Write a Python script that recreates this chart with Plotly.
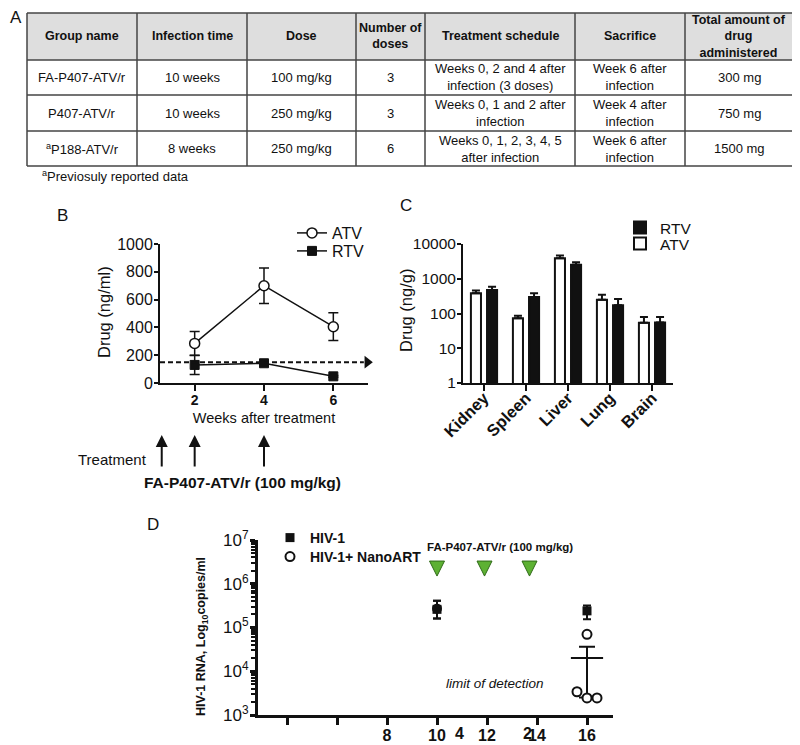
import math
import plotly.graph_objects as go

W, H = 800, 745
OFF = 8  # the page body margin places the figure 8px right/down in the window


def fx(p):
    return (p - OFF) / W


def fy(p):
    return 1 - (p - OFF) / H


FONT = "Liberation Sans, Arial, sans-serif"
INK = "#111111"

# ---------------- Panel A : table ----------------
table_headers = ["Group name", "Infection time", "Dose", "Number of<br>doses",
                 "Treatment schedule", "Sacrifice", "Total amount of<br>drug<br>administered"]
group_names = ["FA-P407-ATV/r", "P407-ATV/r", "<sup>a</sup>P188-ATV/r"]
infection_times = ["10 weeks", "10 weeks", "8 weeks"]
doses = ["100 mg/kg", "250 mg/kg", "250 mg/kg"]
number_of_doses = ["3", "3", "6"]
schedules = ["Weeks 0, 2 and 4 after<br>infection (3 doses)",
             "Weeks 0, 1 and 2 after<br>infection",
             "Weeks 0, 1, 2, 3, 4, 5<br>after infection"]
sacrifices = ["Week 6 after<br>infection", "Week 4 after<br>infection", "Week 6 after<br>infection"]
total_drug = ["300 mg", "750 mg", "1500 mg"]
table_footnote = "<sup>a</sup>Previosuly reported data"

# ---------------- Panel B : plasma drug levels ----------------
b_weeks = [2, 4, 6]
atv_plasma = [285, 700, 405]
atv_plasma_err = [85, 128, 100]
rtv_plasma = [130, 142, 48]
rtv_plasma_err = [68, 10, 6]
plasma_limit = 150
treatment_weeks = [1.05, 2, 4]

# ---------------- Panel C : tissue drug levels ----------------
tissues = ["Kidney", "Spleen", "Liver", "Lung", "Brain"]
atv_tissue = [380, 73, 3920, 250, 54]
atv_tissue_err = [82, 13, 760, 95, 25]
rtv_tissue = [473, 300, 2520, 172, 55]
rtv_tissue_err = [117, 83, 480, 91, 24]

# ---------------- Panel D : viral load ----------------
hiv_weeks = [10, 16]
hiv_rna = [2.6e5, 2.4e5]
hiv_err_plus = [1.5e5, 0.8e5]
hiv_err_minus = [1.0e5, 0.85e5]
nano_base_weeks = [10]
nano_base_rna = [2.7e5]
nano_base_err_plus = [1.4e5]
nano_base_err_minus = [1.1e5]
nano_weeks = [16, 15.6, 16, 16.4]
nano_rna = [7.0e4, 3.4e3, 2.45e3, 2.45e3]
nano_mean_week = [16]
nano_mean = [2.0e4]
nano_sem_plus = [1.65e4]
nano_sem_minus = [1.75e4]
dose_weeks = [10, 11.9, 13.7]
dose_level = [1.5e6, 1.5e6, 1.5e6]
detection_limit = 2.45e3
d_tick_vals = [4, 6, 8, 10, 12, 14, 16]
d_tick_text = ["", "", "8", "10", "12", "14", "16"]
d_stray_labels = ["4", "2"]
d_stray_weeks = [10.9, 13.6]

fig = go.Figure()

# ----- B traces
B_XR = [1, 7]
fig.add_trace(go.Scatter(
    x=b_weeks, y=atv_plasma, name="ATV", mode="lines+markers",
    line=dict(color=INK, width=1.5),
    marker=dict(symbol="circle", size=10, color="white", line=dict(color=INK, width=1.5)),
    error_y=dict(type="data", array=atv_plasma_err, color=INK, thickness=1.5, width=5),
    xaxis="x", yaxis="y", legend="legend"))
fig.add_trace(go.Scatter(
    x=b_weeks, y=rtv_plasma, name="RTV", mode="lines+markers",
    line=dict(color=INK, width=1.5),
    marker=dict(symbol="square", size=9, color=INK, line=dict(color=INK, width=1)),
    error_y=dict(type="data", array=rtv_plasma_err, color=INK, thickness=1.5, width=5),
    xaxis="x", yaxis="y", legend="legend2"))
fig.add_trace(go.Scatter(
    x=[B_XR[0], B_XR[1] - 0.12], y=[plasma_limit, plasma_limit], mode="lines",
    line=dict(color=INK, width=2, dash="5px,3px"), showlegend=False,
    cliponaxis=False, xaxis="x", yaxis="y", hoverinfo="skip"))
fig.add_trace(go.Scatter(
    x=[B_XR[1] - 0.02], y=[plasma_limit], mode="markers",
    marker=dict(symbol="triangle-right", size=11, color=INK),
    showlegend=False, cliponaxis=False, xaxis="x", yaxis="y", hoverinfo="skip"))

# ----- C traces
fig.add_trace(go.Bar(
    x=tissues, y=atv_tissue, name="ATV",
    marker=dict(color="white", line=dict(color=INK, width=2)),
    error_y=dict(type="data", array=atv_tissue_err, arrayminus=[0] * 5, symmetric=False,
                 color=INK, thickness=2, width=4),
    xaxis="x2", yaxis="y2", legend="legend4"))
fig.add_trace(go.Bar(
    x=tissues, y=rtv_tissue, name="RTV",
    marker=dict(color=INK, line=dict(color=INK, width=2)),
    error_y=dict(type="data", array=rtv_tissue_err, arrayminus=[0] * 5, symmetric=False,
                 color=INK, thickness=2, width=4),
    xaxis="x2", yaxis="y2", legend="legend3"))

# ----- D traces
fig.add_trace(go.Scatter(
    x=dose_weeks, y=dose_level, mode="markers", showlegend=False,
    marker=dict(symbol="arrow-down", size=15, color="#5db133", line=dict(color="#2f6a18", width=1)),
    xaxis="x3", yaxis="y3", hoverinfo="skip"))
fig.add_trace(go.Scatter(
    x=hiv_weeks, y=hiv_rna, name="<b>HIV-1</b>", mode="markers",
    marker=dict(symbol="square", size=9, color=INK),
    error_y=dict(type="data", array=hiv_err_plus, arrayminus=hiv_err_minus, symmetric=False,
                 color=INK, thickness=2, width=4),
    xaxis="x3", yaxis="y3", legend="legend5"))
fig.add_trace(go.Scatter(
    x=nano_base_weeks, y=nano_base_rna, mode="markers", showlegend=False,
    marker=dict(symbol="circle", size=10, color=INK),
    error_y=dict(type="data", array=nano_base_err_plus, arrayminus=nano_base_err_minus,
                 symmetric=False, color=INK, thickness=2, width=4),
    xaxis="x3", yaxis="y3"))
fig.add_trace(go.Scatter(
    x=nano_mean_week, y=nano_mean, mode="markers", showlegend=False,
    marker=dict(symbol="line-ew", size=23, line=dict(color=INK, width=2)),
    error_y=dict(type="data", array=nano_sem_plus, arrayminus=nano_sem_minus, symmetric=False,
                 color=INK, thickness=2, width=8),
    xaxis="x3", yaxis="y3"))
fig.add_trace(go.Scatter(
    x=nano_weeks, y=nano_rna, name="<b>HIV-1+ NanoART</b>", mode="markers",
    marker=dict(symbol="circle", size=9, color="white", line=dict(color=INK, width=2)),
    xaxis="x3", yaxis="y3", legend="legend6", cliponaxis=False))

axis_common = dict(showgrid=False, zeroline=False, showline=True, linecolor=INK,
                   ticks="outside", tickcolor=INK, automargin=False)

# ---------------- Table shapes & annotations ----------------
col_edges = [27, 137, 247, 356, 425, 575, 685, 793]
row_edges = [13, 60, 95, 131, 166]
shapes = []
annotations = []
shapes.append(dict(type="rect", xref="paper", yref="paper",
                   x0=fx(col_edges[0]), x1=fx(col_edges[-1]),
                   y0=fy(row_edges[1]), y1=fy(row_edges[0]),
                   fillcolor="#dedede", line=dict(width=0), layer="below"))
for r in row_edges:
    shapes.append(dict(type="line", xref="paper", yref="paper",
                       x0=fx(col_edges[0]), x1=fx(col_edges[-1]), y0=fy(r), y1=fy(r),
                       line=dict(color="#444444", width=1.5)))
for c in col_edges:
    shapes.append(dict(type="line", xref="paper", yref="paper",
                       x0=fx(c), x1=fx(c), y0=fy(row_edges[0]), y1=fy(row_edges[-1]),
                       line=dict(color="#444444", width=1.5)))

columns = [group_names, infection_times, doses, number_of_doses, schedules, sacrifices, total_drug]
for ci, head in enumerate(table_headers):
    cx = (col_edges[ci] + col_edges[ci + 1]) / 2
    cy = (row_edges[0] + row_edges[1]) / 2
    annotations.append(dict(x=fx(cx), y=fy(cy), xref="paper", yref="paper", text="<b>" + head + "</b>",
                            showarrow=False, xanchor="center", yanchor="middle",
                            font=dict(size=12.5, color=INK, family=FONT)))
    for ri, val in enumerate(columns[ci]):
        cy = (row_edges[ri + 1] + row_edges[ri + 2]) / 2
        annotations.append(dict(x=fx(cx), y=fy(cy), xref="paper", yref="paper", text=val,
                                showarrow=False, xanchor="center", yanchor="middle",
                                font=dict(size=13, color=INK, family=FONT)))
annotations.append(dict(x=fx(40), y=fy(176), xref="paper", yref="paper", text=table_footnote,
                        showarrow=False, xanchor="left", yanchor="middle",
                        font=dict(size=13, color=INK, family=FONT)))

# Panel letters
for letter, (lx, ly) in zip(["A", "B", "C", "D"], [(15.5, 17), (62, 215), (406, 205), (153, 524)]):
    annotations.append(dict(x=fx(lx), y=fy(ly), xref="paper", yref="paper", text=letter,
                            showarrow=False, xanchor="center", yanchor="middle",
                            font=dict(size=17, color=INK, family=FONT)))

# Y-axis titles
for txt, (tx, ty), size in [("Drug (ng/ml)", (104, 312), 16.5),
                            ("Drug (ng/g)", (406, 311), 16.5),
                            ("<b>HIV-1 RNA, Log<sub>10</sub>copies/ml</b>", (202, 637), 12.5)]:
    annotations.append(dict(x=fx(tx), y=fy(ty), xref="paper", yref="paper", text=txt,
                            textangle=-90, showarrow=False, xanchor="center", yanchor="middle",
                            font=dict(size=size, color=INK, family=FONT)))

# Panel B treatment arrows
for tw in treatment_weeks:
    annotations.append(dict(x=tw, y=fy(435), xref="x", yref="paper", text="",
                            showarrow=True, ax=0, ay=33, arrowhead=2, arrowsize=1.2,
                            arrowwidth=2, arrowcolor=INK))
annotations.append(dict(x=fx(112), y=fy(459), xref="paper", yref="paper", text="Treatment",
                        showarrow=False, xanchor="center", yanchor="middle",
                        font=dict(size=15, color=INK, family=FONT)))
annotations.append(dict(x=fx(242), y=fy(482), xref="paper", yref="paper",
                        text="<b>FA-P407-ATV/r (100 mg/kg)</b>",
                        showarrow=False, xanchor="center", yanchor="middle",
                        font=dict(size=15.5, color=INK, family=FONT)))

# Panel D texts
annotations.append(dict(x=fx(500), y=fy(547), xref="paper", yref="paper",
                        text="<b>FA-P407-ATV/r (100 mg/kg)</b>",
                        showarrow=False, xanchor="center", yanchor="middle",
                        font=dict(size=11.5, color=INK, family=FONT)))
annotations.append(dict(x=fx(495), y=fy(683), xref="paper", yref="paper",
                        text="<i>limit of detection</i>",
                        showarrow=False, xanchor="center", yanchor="middle",
                        font=dict(size=13.5, color=INK, family=FONT)))
for lab, wk in zip(d_stray_labels, d_stray_weeks):
    annotations.append(dict(x=wk, y=fy(733), xref="x3", yref="paper", text="<b>" + lab + "</b>",
                            showarrow=False, xanchor="center", yanchor="middle",
                            font=dict(size=16, color=INK, family=FONT)))

# Detection limit line in D
shapes.append(dict(type="line", xref="x3 domain", yref="y3", x0=0, x1=1,
                   y0=math.log10(detection_limit), y1=math.log10(detection_limit),
                   line=dict(color=INK, width=2, dash="4px,3px")))


def legend_at(x_px, y_px, size):
    return dict(x=fx(x_px), y=fy(y_px), xanchor="left", yanchor="middle",
                bgcolor="rgba(0,0,0,0)", font=dict(size=size),
                itemwidth=30, borderwidth=0)


fig.update_layout(
    width=W, height=H, margin=dict(l=0, r=0, t=0, b=0, pad=0, autoexpand=False),
    paper_bgcolor="white", plot_bgcolor="white",
    font=dict(family=FONT, color=INK, size=14),
    barmode="group", bargap=0.233, bargroupgap=0.375,
    shapes=shapes, annotations=annotations,
    xaxis=dict(axis_common, domain=[fx(160), fx(368)], range=B_XR, anchor="y",
               tickvals=b_weeks, linewidth=2, tickwidth=2, ticklen=6, ticklabelstandoff=-3,
               tickfont=dict(size=14, weight="bold"),
               title=dict(text="Weeks after treatment", font=dict(size=14.5), standoff=6)),
    yaxis=dict(axis_common, domain=[fy(383), fy(244)], range=[0, 1000], anchor="x",
               dtick=200, linewidth=2, tickwidth=2, ticklen=4, ticklabelstandoff=-2,
               tickfont=dict(size=16)),
    xaxis2=dict(axis_common, domain=[fx(463), fx(673)], range=[-0.5, 4.5], anchor="y2",
                type="category", linewidth=2, tickwidth=2, ticklen=6, tickangle=-45,
                ticklabelstandoff=-9, tickfont=dict(size=16.5, weight="bold")),
    yaxis2=dict(axis_common, domain=[fy(383), fy(244)], type="log", range=[0, 4], anchor="x2",
                tickvals=[1, 10, 100, 1000, 10000], ticktext=["1", "10", "100", "1000", "10000"],
                linewidth=2, tickwidth=2, ticklen=4, ticklabelstandoff=-2, tickfont=dict(size=15.5)),
    xaxis3=dict(axis_common, domain=[fx(258), fx(613)], range=[2.84, 17.04], anchor="y3",
                tickvals=d_tick_vals, ticktext=d_tick_text, linewidth=3, tickwidth=2.5, ticklen=7,
                ticklabelstandoff=-3, tickfont=dict(size=16, weight="bold")),
    yaxis3=dict(axis_common, domain=[fy(715), fy(540)], type="log", range=[3, 7], anchor="x3",
                tickvals=[1e3, 1e4, 1e5, 1e6, 1e7],
                ticktext=["10<sup>3</sup>", "10<sup>4</sup>", "10<sup>5</sup>", "10<sup>6</sup>", "10<sup>7</sup>"],
                linewidth=3, tickwidth=2.5, ticklen=5, ticklabelstandoff=-2, tickfont=dict(size=17),
                minor=dict(ticks="outside", ticklen=4, tickwidth=2, tickcolor=INK, dtick="D1",
                           showgrid=False)),
    legend=legend_at(292, 233, 16),
    legend2=legend_at(292, 251, 16),
    legend3=legend_at(620, 228, 15.5),
    legend4=legend_at(620, 244, 15.5),
    legend5=legend_at(270, 538, 14),
    legend6=legend_at(270, 557, 14),
)

fig.write_html("out.html")
